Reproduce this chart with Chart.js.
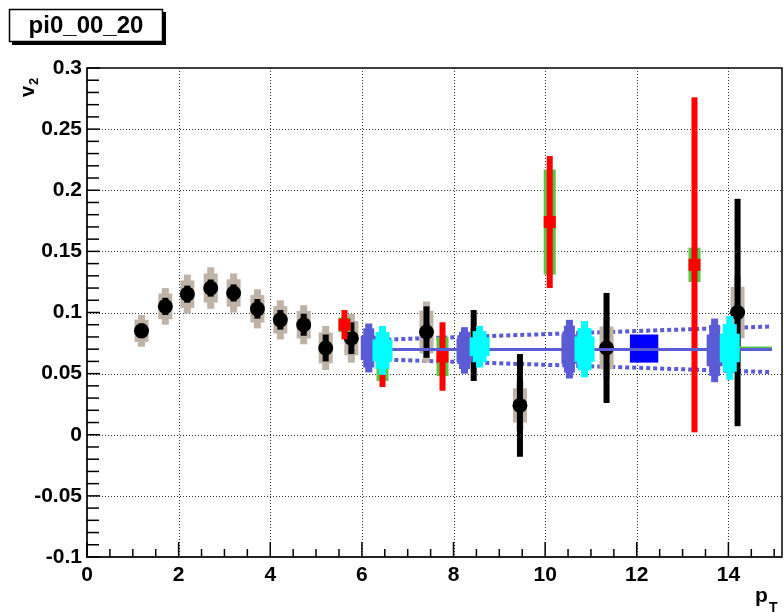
<!DOCTYPE html>
<html>
<head>
<meta charset="utf-8">
<script src="https://cdn.jsdelivr.net/npm/chart.js@4.4.1/dist/chart.umd.min.js"></script>
<style>
  html, body { margin: 0; padding: 0; background: #fff; }
  canvas { display: block; }
</style>
</head>
<body>
<canvas id="v2Chart" width="784" height="612"></canvas>
<script>
// axis ticks
const xTicks = [0, 2, 4, 6, 8, 10, 12, 14];
const yTicks = [-0.1, -0.05, 0, 0.05, 0.1, 0.15, 0.2, 0.25, 0.3];

// black points (stat error black, sys error grey)
const blackPt   = [1.19, 1.71, 2.19, 2.70, 3.20, 3.72, 4.22, 4.73, 5.21, 5.77, 7.41, 8.44, 9.45, 11.34, 14.20];
const blackV2   = [0.085, 0.105, 0.115, 0.120, 0.116, 0.103, 0.094, 0.090, 0.071, 0.079, 0.084, 0.073, 0.024, 0.071, 0.100];
const blackStat = [0.006, 0.007, 0.007, 0.007, 0.007, 0.008, 0.008, 0.009, 0.011, 0.013, 0.021, 0.029, 0.042, 0.045, 0.093];
const blackSys  = [0.013, 0.015, 0.016, 0.017, 0.016, 0.016, 0.016, 0.016, 0.018, 0.020, 0.025, 0.015, 0.020, 0.025, 0.030];

// red points (stat error red, sys error green)
const redPt   = [5.62, 6.45, 7.76, 10.10, 13.26];
const redV2   = [0.090, 0.062, 0.064, 0.174, 0.139];
const redStat = [0.012, 0.023, 0.028, 0.054, 0.137];
const redSys  = [0.006, 0.018, 0.016, 0.043, 0.014];

// slate blue and cyan points
const slatePt  = [6.15, 8.24, 10.53, 13.70];
const slateV2  = [0.071, 0.069, 0.070, 0.069];
const slateErr = [0.020, 0.019, 0.024, 0.026];
const cyanPt   = [6.45, 8.57, 10.86, 14.03];
const cyanV2   = [0.069, 0.072, 0.070, 0.071];
const cyanErr  = [0.020, 0.017, 0.023, 0.026];

// blue box
const boxPt = [12.16];
const boxV2 = [0.0705];
const boxXErr = [0.31];
const boxYErr = [0.0115];

// fit line and band
const fitX = [6.1, 14.95];
const fitV2 = [0.0697, 0.0697];
const greenFitX = [14.2, 14.95];
const greenFitV2 = [0.0712, 0.0712];
const bandX = [6.25, 14.95];
const bandHi = [0.0775, 0.0886];
const bandLo = [0.0618, 0.0512];

const toXY = (xs, ys) => xs.map((x, i) => ({ x: x, y: ys[i] }));

function steps(ctx, px, py, errPx, shape, color) {
  ctx.fillStyle = color;
  shape.forEach(([hw, f]) => ctx.fillRect(px - hw, py - errPx * f, hw * 2, errPx * f * 2));
}

function errPx(sy, v, e) {
  return Math.abs(sy.getPixelForValue(v + e) - sy.getPixelForValue(v));
}

const rootStyle = {
  id: 'rootStyle',
  beforeDatasetsDraw(chart) {
    const { ctx, chartArea: a, scales: { x, y } } = chart;
    ctx.save();
    ctx.strokeStyle = '#333';
    ctx.lineWidth = 1;
    ctx.setLineDash([1, 2]);
    xTicks.slice(1).forEach(v => {
      const px = Math.round(x.getPixelForValue(v)) + 0.5;
      ctx.beginPath(); ctx.moveTo(px, a.top); ctx.lineTo(px, a.bottom); ctx.stroke();
    });
    yTicks.slice(1, -1).forEach(v => {
      const py = Math.round(y.getPixelForValue(v)) + 0.5;
      ctx.beginPath(); ctx.moveTo(a.left, py); ctx.lineTo(a.right, py); ctx.stroke();
    });
    ctx.restore();
  },
  beforeDatasetDraw(chart, args) {
    const ds = chart.data.datasets[args.index];
    if (ds.errDraw) {
      chart.ctx.save();
      ds.errDraw(chart.ctx, chart.scales.x, chart.scales.y);
      chart.ctx.restore();
    }
  },
  afterDatasetsDraw(chart) {
    const { ctx, chartArea: a, scales: { x, y } } = chart;
    ctx.save();
    // frame
    ctx.strokeStyle = '#000';
    ctx.lineWidth = 1.5;
    ctx.strokeRect(a.left, a.top, a.right - a.left, a.bottom - a.top);
    ctx.strokeStyle = '#222';
    ctx.lineWidth = 2;
    ctx.beginPath();
    ctx.moveTo(a.left, a.top); ctx.lineTo(a.left, a.bottom); ctx.lineTo(a.right, a.bottom);
    ctx.stroke();
    // ticks
    ctx.lineWidth = 1.5;
    ctx.strokeStyle = '#000';
    for (let k = 0; k <= 30; k++) {
      const v = k * 0.5;
      const px = x.getPixelForValue(v);
      const len = k % 4 === 0 ? 15 : 8;
      ctx.beginPath(); ctx.moveTo(px, a.bottom); ctx.lineTo(px, a.bottom - len); ctx.stroke();
    }
    for (let k = 0; k <= 40; k++) {
      const v = -0.1 + k * 0.01;
      const py = y.getPixelForValue(v);
      const len = k % 5 === 0 ? 13 : 12;
      ctx.beginPath(); ctx.moveTo(a.left, py); ctx.lineTo(a.left + len, py); ctx.stroke();
    }
    ctx.restore();
  },
  afterDraw(chart) {
    const ctx = chart.ctx;
    ctx.save();
    // title box
    ctx.fillStyle = '#000';
    ctx.fillRect(12, 12, 154, 33);
    ctx.fillStyle = '#fff';
    ctx.fillRect(9, 9, 154, 33);
    ctx.strokeStyle = '#000';
    ctx.lineWidth = 1.5;
    ctx.strokeRect(9.5, 9.5, 153, 32);
    ctx.fillStyle = '#000';
    ctx.font = 'bold 24px "Liberation Sans", Arial, sans-serif';
    ctx.textAlign = 'center';
    ctx.textBaseline = 'alphabetic';
    ctx.fillText('pi0_00_20', 86, 33);
    // y title
    ctx.textAlign = 'left';
    ctx.save();
    ctx.translate(34, 97);
    ctx.rotate(-Math.PI / 2);
    ctx.font = 'bold 20px "Liberation Sans", Arial, sans-serif';
    ctx.fillText('v', 0, 0);
    const wv = ctx.measureText('v').width;
    ctx.font = 'bold 13px "Liberation Sans", Arial, sans-serif';
    ctx.fillText('2', wv + 1, 4);
    ctx.restore();
    // x title
    ctx.font = 'bold 21px "Liberation Sans", Arial, sans-serif';
    ctx.fillText('p', 755, 602);
    ctx.font = 'bold 14px "Liberation Sans", Arial, sans-serif';
    ctx.fillText('T', 769, 612);
    ctx.restore();
  }
};

const tickFont = { family: '"Liberation Sans", Arial, sans-serif', size: 21, weight: 'bold' };

new Chart(document.getElementById('v2Chart'), {
  type: 'scatter',
  data: {
    datasets: [
      {
        label: 'band high', data: toXY(bandX, bandHi), showLine: true, pointRadius: 0,
        borderColor: '#5b5bd6', borderWidth: 4, borderDash: [4, 3], order: 10
      },
      {
        label: 'band low', data: toXY(bandX, bandLo), showLine: true, pointRadius: 0,
        borderColor: '#5b5bd6', borderWidth: 4, borderDash: [4, 3], order: 10
      },
      {
        label: 'box', data: toXY(boxPt, boxV2), pointRadius: 0, order: 9,
        errDraw(ctx, sx, sy) {
          ctx.fillStyle = '#0000ff';
          boxPt.forEach((x, i) => {
            const x1 = sx.getPixelForValue(x - boxXErr[i]);
            const x2 = sx.getPixelForValue(x + boxXErr[i]);
            const y1 = sy.getPixelForValue(boxV2[i] + boxYErr[i]);
            const y2 = sy.getPixelForValue(boxV2[i] - boxYErr[i]);
            ctx.fillRect(x1, y1, x2 - x1, y2 - y1);
          });
        }
      },
      {
        label: 'black', data: toXY(blackPt, blackV2), pointRadius: 7.5, pointBorderWidth: 0,
        backgroundColor: '#000', borderColor: '#000', order: 8,
        errDraw(ctx, sx, sy) {
          blackPt.forEach((x, i) => {
            const px = sx.getPixelForValue(x), py = sy.getPixelForValue(blackV2[i]);
            steps(ctx, px, py, errPx(sy, blackV2[i], blackSys[i]), [[3.5, 1], [7, 0.7]], '#bfb3a8');
          });
          blackPt.forEach((x, i) => {
            const px = sx.getPixelForValue(x), py = sy.getPixelForValue(blackV2[i]);
            steps(ctx, px, py, errPx(sy, blackV2[i], blackStat[i]), [[3, 1]], '#000');
          });
        }
      },
      {
        label: 'red', data: toXY(redPt, redV2), pointStyle: 'rect', pointRadius: 8.5, pointBorderWidth: 0,
        backgroundColor: '#ff0000', borderColor: '#ff0000', order: 7,
        errDraw(ctx, sx, sy) {
          redPt.forEach((x, i) => {
            const px = sx.getPixelForValue(x), py = sy.getPixelForValue(redV2[i]);
            steps(ctx, px, py, errPx(sy, redV2[i], redSys[i]), [[6, 1]], '#55c845');
            steps(ctx, px, py, errPx(sy, redV2[i], redStat[i]), [[3, 1]], '#ff0000');
          });
        }
      },
      {
        label: 'fit green', data: toXY(greenFitX, greenFitV2), showLine: true, pointRadius: 0,
        borderColor: '#55c845', borderWidth: 2.5, order: 6
      },
      {
        label: 'fit', data: toXY(fitX, fitV2), showLine: true, pointRadius: 0,
        borderColor: '#5b5bd6', borderWidth: 3, order: 5
      },
      {
        label: 'slate', data: toXY(slatePt, slateV2), pointRadius: 0, order: 4,
        errDraw(ctx, sx, sy) {
          slatePt.forEach((x, i) => {
            const px = sx.getPixelForValue(x), py = sy.getPixelForValue(slateV2[i]);
            steps(ctx, px, py, errPx(sy, slateV2[i], slateErr[i]), [[3.5, 1], [5.5, 0.8], [8, 0.5]], '#5b5bd6');
          });
        }
      },
      {
        label: 'cyan', data: toXY(cyanPt, cyanV2), pointRadius: 0, order: 3,
        errDraw(ctx, sx, sy) {
          cyanPt.forEach((x, i) => {
            const px = sx.getPixelForValue(x), py = sy.getPixelForValue(cyanV2[i]);
            steps(ctx, px, py, errPx(sy, cyanV2[i], cyanErr[i]), [[3.5, 1], [7, 0.75], [10, 0.45]], '#00ffff');
          });
        }
      }
    ]
  },
  options: {
    responsive: false,
    animation: false,
    events: [],
    layout: { autoPadding: false, padding: { left: 0, top: 68, right: 2, bottom: 0 } },
    plugins: { legend: { display: false }, tooltip: { enabled: false } },
    scales: {
      x: {
        type: 'linear', min: 0, max: 15.17,
        grid: { display: false, drawTicks: false },
        border: { display: false },
        afterBuildTicks: s => { s.ticks = xTicks.map(v => ({ value: v })); },
        afterFit: s => { s.height = 55; s.paddingLeft = 0; s.paddingRight = 0; },
        ticks: {
          autoSkip: false, maxRotation: 0, padding: 6, color: '#000', font: tickFont,
          callback: v => String(v)
        }
      },
      y: {
        type: 'linear', min: -0.1, max: 0.3,
        grid: { display: false, drawTicks: false },
        border: { display: false },
        afterBuildTicks: s => { s.ticks = yTicks.map(v => ({ value: v })); },
        afterFit: s => { s.width = 87; s.paddingTop = 0; s.paddingBottom = 0; },
        ticks: {
          autoSkip: false, padding: 5, color: '#000', font: tickFont,
          callback: v => String(+Number(v).toFixed(2))
        }
      }
    }
  },
  plugins: [rootStyle]
});
</script>
</body>
</html>
